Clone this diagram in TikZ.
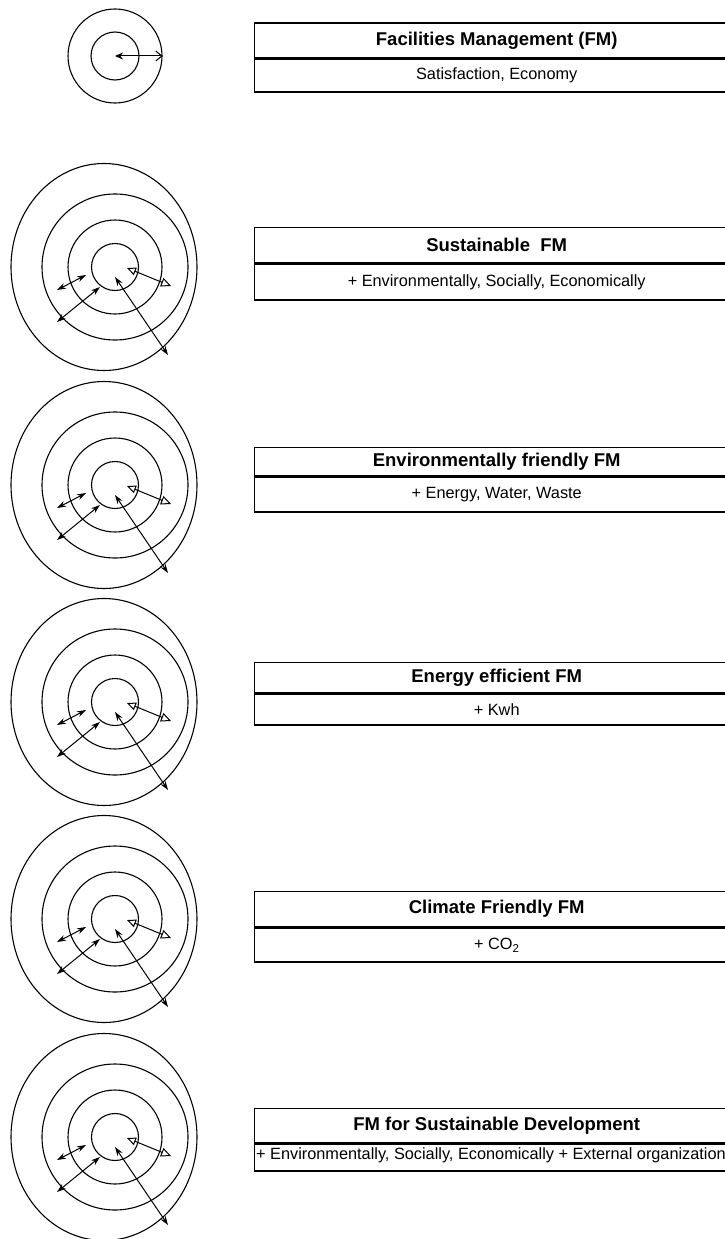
\documentclass[tikz,border=0pt]{standalone}
\usepackage{fontspec}
\setmainfont{Liberation Sans}
\usetikzlibrary{arrows.meta,shapes.geometric}
\tikzset{
  ring/.style={draw, circle, line width=1.1pt, inner sep=0pt},
  oring/.style={draw, ellipse, line width=1.1pt, inner sep=0pt, minimum width=186pt, minimum height=207pt},
  titlerow/.style={draw, line width=1.4pt, anchor=north west, minimum width=484pt, inner sep=0pt, font=\fontsize{18.5}{20}\selectfont\bfseries},
  subrow/.style={draw, line width=1.4pt, anchor=north west, minimum width=484pt, inner sep=0pt, font=\fontsize{16.3}{18}\selectfont},
  dblarrow/.style={line width=1pt, {Stealth[length=9pt,width=6pt]}-{Stealth[length=9pt,width=6pt]}},
  openarrow/.style={line width=1pt, {Triangle[open,length=9pt,width=8pt]}-{Triangle[open,length=10pt,width=9pt]}},
  toparrow/.style={line width=1pt, {Stealth[length=8pt,width=7pt]}-{Straight Barb[length=6pt,width=10pt]}},
}
\begin{document}
\begin{tikzpicture}[x=1pt,y=-1pt]
\useasboundingbox (0,0) rectangle (725,1239);

% top small target
\node[ring, minimum size=48pt] (r1-1) at (115,56) {};
\node[ring, minimum size=94pt] (r2-1) at (115,56) {};
\coordinate (c-1) at (115,56);
\draw[toparrow] (c-1) -- (r2-1.east);

% large targets
\foreach \i/\cy in {2/267,3/485,4/702,5/919,6/1137}{
  \node[ring, minimum size=47pt] (r1-\i) at (115,\cy) {};
  \node[ring, minimum size=94pt] (r2-\i) at (115,\cy) {};
  \node[ring, minimum size=146pt] (r3-\i) at (115,\cy) {};
  \node[oring] (r4-\i) at (104,\cy) {};
  \coordinate (a1-\i) at (57,{\cy+23});
  \coordinate (a2-\i) at (86,{\cy+8});
  \coordinate (b1-\i) at (57,{\cy+55});
  \coordinate (b2-\i) at (100,{\cy+20});
  \coordinate (c1-\i) at (127,{\cy+1});
  \coordinate (c2-\i) at (171,{\cy+19});
  \coordinate (d1-\i) at (115,{\cy+10});
  \coordinate (d2-\i) at (168,{\cy+88});
  \draw[dblarrow] (a1-\i) -- (a2-\i);
  \draw[dblarrow] (b1-\i) -- (b2-\i);
  \draw[openarrow] (c1-\i) -- (c2-\i);
  \draw[dblarrow] (d1-\i) -- (d2-\i);
}

% boxes
\node[titlerow, minimum height=34.5pt] (t1) at (254,22.5) {Facilities Management (FM)};
\node[subrow, minimum height=33pt] (s1) at (t1.south west) {Satisfaction, Economy};

\node[titlerow, minimum height=35pt] (t2) at (254,227) {Sustainable\ \ FM};
\node[subrow, minimum height=36pt] (s2) at (t2.south west) {+ Environmentally, Socially, Economically};

\node[titlerow, minimum height=28.5pt] (t3) at (254,446.5) {Environmentally friendly FM};
\node[subrow, minimum height=35pt] (s3) at (t3.south west) {+ Energy, Water, Waste};

\node[titlerow, minimum height=30.5pt] (t4) at (254,661.5) {Energy efficient FM};
\node[subrow, minimum height=31pt] (s4) at (t4.south west) {+ Kwh};

\node[titlerow, minimum height=35pt] (t5) at (254,891) {Climate Friendly FM};
\node[subrow, minimum height=34pt] (s5) at (t5.south west) {+ CO\textsubscript{2}};

\node[titlerow, minimum height=34pt] (t6) at (254,1108) {FM for Sustainable Development};
\node[subrow, minimum height=27pt] (s6) at (t6.south west) {};
\node[font=\fontsize{16.3}{18}\selectfont, anchor=west, inner sep=0pt] (s6t) at (256,1155.5) {+ Environmentally, Socially, Economically + External organization};
\end{tikzpicture}
\end{document}
